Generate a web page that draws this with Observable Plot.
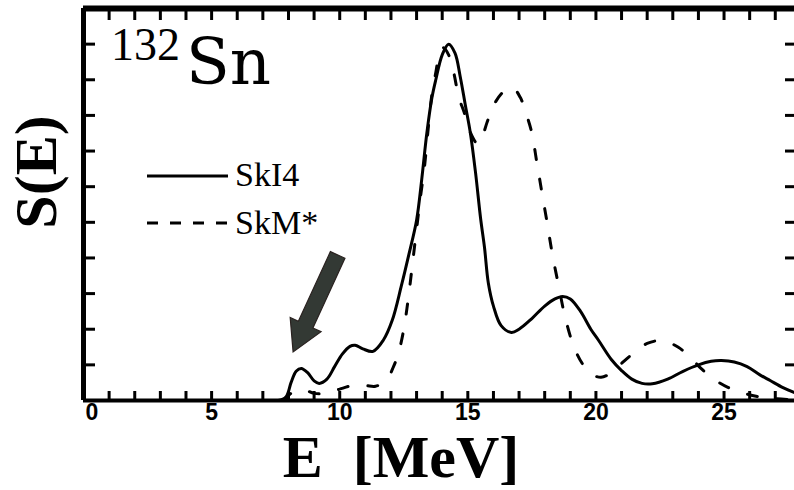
<!DOCTYPE html>
<html><head><meta charset="utf-8">
<script src="https://cdn.jsdelivr.net/npm/d3@7"></script>
<script src="https://cdn.jsdelivr.net/npm/@observablehq/plot@0.6"></script>
<style>
html,body{margin:0;padding:0;background:#fff;overflow:hidden;}
#chart{position:relative;width:794px;height:490px;}
</style></head><body><div id="chart"></div>
<script>
// ---- data ----
const seriesNames = ["SkI4", "SkM*"];
const ski4E = [7.6, 7.9, 8.1, 8.3, 8.5, 8.75, 9.0, 9.2, 9.5, 9.8, 10.1, 10.4, 10.6, 10.9, 11.3, 11.7, 12.05, 12.4, 12.7, 13.0, 13.2, 13.4, 13.6, 13.75, 14.0, 14.25, 14.5, 14.7, 14.9, 15.1, 15.3, 15.5, 15.65, 15.8, 16.0, 16.3, 16.7, 17.0, 17.5, 18.0, 18.4, 18.7, 19.0, 19.4, 19.8, 20.1, 20.6, 21.0, 21.4, 21.8, 22.2, 22.8, 23.4, 24.0, 24.5, 24.9, 25.4, 25.9, 26.4, 26.8, 27.3, 27.75];
const ski4S = [0.0, 0.1, 0.5, 0.82, 0.9, 0.78, 0.55, 0.48, 0.6, 0.95, 1.3, 1.52, 1.55, 1.45, 1.38, 1.69, 2.25, 3.2, 4.1, 5.06, 6.2, 7.5, 8.5, 9.0, 9.7, 10.0, 9.75, 9.1, 8.3, 7.5, 6.4, 5.1, 4.3, 3.3, 2.65, 2.1, 1.91, 2.0, 2.3, 2.65, 2.85, 2.92, 2.85, 2.5, 2.0, 1.69, 1.15, 0.84, 0.6, 0.48, 0.47, 0.6, 0.82, 1.0, 1.1, 1.12, 1.08, 0.95, 0.72, 0.56, 0.36, 0.22];
const skmE = [7.8, 8.2, 8.6, 9.0, 9.5, 10.0, 10.5, 11.0, 11.4, 11.8, 12.1, 12.3, 12.5, 12.7, 12.85, 13.0, 13.15, 13.3, 13.45, 13.6, 13.75, 13.9, 14.05, 14.25, 14.45, 14.65, 14.85, 15.05, 15.4, 15.8, 16.1, 16.45, 16.75, 17.05, 17.3, 17.5, 17.7, 17.9, 18.1, 18.3, 18.55, 18.8, 19.15, 19.5, 19.8, 20.2, 20.6, 21.0, 21.5, 22.0, 22.6, 23.2, 23.7, 24.1, 24.6, 25.15, 25.8, 26.4, 27.0, 27.75];
const skmS = [0.0, 0.25, 0.3, 0.2, 0.2, 0.32, 0.42, 0.42, 0.4, 0.55, 0.95, 1.35, 2.0, 3.0, 3.9, 4.8, 5.7, 6.5, 7.6, 8.6, 9.2, 9.75, 9.9, 9.7, 9.2, 8.5, 8.1, 7.6, 7.2, 7.9, 8.4, 8.7, 8.78, 8.5, 8.0, 7.5, 6.65, 5.8, 4.97, 4.1, 3.2, 2.33, 1.49, 1.0, 0.75, 0.65, 0.78, 1.04, 1.35, 1.6, 1.68, 1.5, 1.2, 0.9, 0.6, 0.37, 0.2, 0.1, 0.05, 0.02];
const energyTickLabels = [0, 5, 10, 15, 20, 25];
const energyMinorTicks = [1, 2, 3, 4, 5, 6, 7, 8, 9, 10, 11, 12, 13, 14, 15, 16, 17, 18, 19, 20, 21, 22, 23, 24, 25, 26, 27];
const strengthTicks = [1, 2, 3, 4, 5, 6, 7, 8, 9, 10];
const arrowFrom = [9.94, 4.07];   // E, S of arrow tail
const arrowTo = [8.2, 1.35];      // E, S of arrow tip
const nucleusMass = "132";
const nucleusSymbol = "Sn";
const xTitle = "E  [MeV]";
const yTitle = "S(E)";

// ---- tables ----
const ski4 = ski4E.map((e, i) => ({E: e, S: ski4S[i]}));
const skm = skmE.map((e, i) => ({E: e, S: skmS[i]}));

const W = 794, H = 490, mL = 83, mR = 0, mT = 8, mB = 90;
const fw = W - mL - mR, fh = H - mT - mB;

const plot = Plot.plot({
  width: W, height: H,
  marginLeft: mL, marginRight: mR, marginTop: mT, marginBottom: mB,
  x: {domain: [0, 27.75], axis: null},
  y: {domain: [0, 11], axis: null},
  style: {background: "transparent", overflow: "visible"},
  marks: [
    Plot.line(ski4, {x: "E", y: "S", stroke: "#000", strokeWidth: 3, curve: "catmull-rom"}),
    Plot.line(skm, {x: "E", y: "S", stroke: "#000", strokeWidth: 3, strokeDasharray: "10,20", curve: "catmull-rom"}),
    Plot.ruleX(energyMinorTicks, {x: d => d, insetTop: fh - 9, stroke: "#000", strokeWidth: 3}),
    Plot.ruleX(energyMinorTicks, {x: d => d, insetBottom: fh - 12, stroke: "#000", strokeWidth: 3}),
    Plot.ruleY(strengthTicks, {y: d => d, insetRight: fw - 12, stroke: "#000", strokeWidth: 3}),
    Plot.ruleY(strengthTicks, {y: d => d, insetLeft: fw - 9, stroke: "#000", strokeWidth: 3}),
    Plot.ruleY([0], {stroke: "#000", strokeWidth: 4}),
    Plot.ruleY([11], {stroke: "#000", strokeWidth: 6}),
    Plot.ruleX([0], {stroke: "#000", strokeWidth: 5}),
    Plot.text(energyTickLabels.slice(1), {x: d => d, text: d => String(d), frameAnchor: "bottom", lineAnchor: "top", dy: 3, fontSize: 23, fontWeight: "bold", fontFamily: "Liberation Sans", fill: "#000"}),
    Plot.text(energyTickLabels.slice(0, 1), {x: d => d, text: d => String(d), frameAnchor: "bottom", lineAnchor: "top", textAnchor: "start", dx: 2, dy: 3, fontSize: 23, fontWeight: "bold", fontFamily: "Liberation Sans", fill: "#000"})
  ]
});
document.getElementById("chart").appendChild(plot);

const sx = plot.scale("x").apply, sy = plot.scale("y").apply;
const svg = d3.select(plot);

// arrow annotation
{
  const p0 = [sx(arrowFrom[0]), sy(arrowFrom[1])];
  const p1 = [sx(arrowTo[0]), sy(arrowTo[1])];
  const dx = p1[0] - p0[0], dy = p1[1] - p0[1];
  const len = Math.hypot(dx, dy);
  const u = [dx / len, dy / len], n = [-u[1], u[0]];
  const hw = 8, HW = 17, hl = 30;
  const neck = [p1[0] - u[0] * hl, p1[1] - u[1] * hl];
  const pts = [
    [p0[0] + n[0] * hw, p0[1] + n[1] * hw],
    [neck[0] + n[0] * hw, neck[1] + n[1] * hw],
    [neck[0] + n[0] * HW, neck[1] + n[1] * HW],
    p1,
    [neck[0] - n[0] * HW, neck[1] - n[1] * HW],
    [neck[0] - n[0] * hw, neck[1] - n[1] * hw],
    [p0[0] - n[0] * hw, p0[1] - n[1] * hw]
  ];
  svg.append("polygon").attr("points", pts.map(p => p.join(",")).join(" "))
    .attr("fill", "#333934").attr("stroke", "#2a2220").attr("stroke-width", 1.2);
}

// legend
{
  const g = svg.append("g").attr("text-anchor", "start");
  const rows = [{y: 176, dash: null}, {y: 223, dash: "11,12"}];
  rows.forEach((r, i) => {
    const l = g.append("line").attr("x1", 147).attr("x2", 228).attr("y1", r.y).attr("y2", r.y)
      .attr("stroke", "#000").attr("stroke-width", 3);
    if (r.dash) l.attr("stroke-dasharray", r.dash);
    g.append("text").attr("x", 235).attr("y", r.y + 10 + i * 1).attr("text-anchor", "start")
      .attr("font-family", "Liberation Serif").attr("font-size", 34).attr("fill", "#000")
      .text(seriesNames[i]);
  });
}

// nucleus label
{
  const t = svg.append("text").attr("fill", "#000").attr("text-anchor", "start");
  t.append("tspan").attr("x", 111).attr("y", 60).attr("font-family", "Liberation Serif").attr("font-size", 46).text(nucleusMass);
  t.append("tspan").attr("x", 186).attr("y", 84).attr("font-family", "DejaVu Serif").attr("font-size", 64).text(nucleusSymbol);
}

// axis titles
svg.append("text").attr("transform", "translate(56,172) rotate(-90)").attr("text-anchor", "middle")
  .attr("font-family", "Liberation Serif").attr("font-weight", "bold").attr("font-size", 60).attr("fill", "#000").text(yTitle);
svg.append("text").attr("x", 401).attr("y", 477).attr("text-anchor", "middle").style("white-space", "pre")
  .attr("font-family", "Liberation Serif").attr("font-weight", "bold").attr("font-size", 60).attr("fill", "#000").text(xTitle);
</script></body></html>
